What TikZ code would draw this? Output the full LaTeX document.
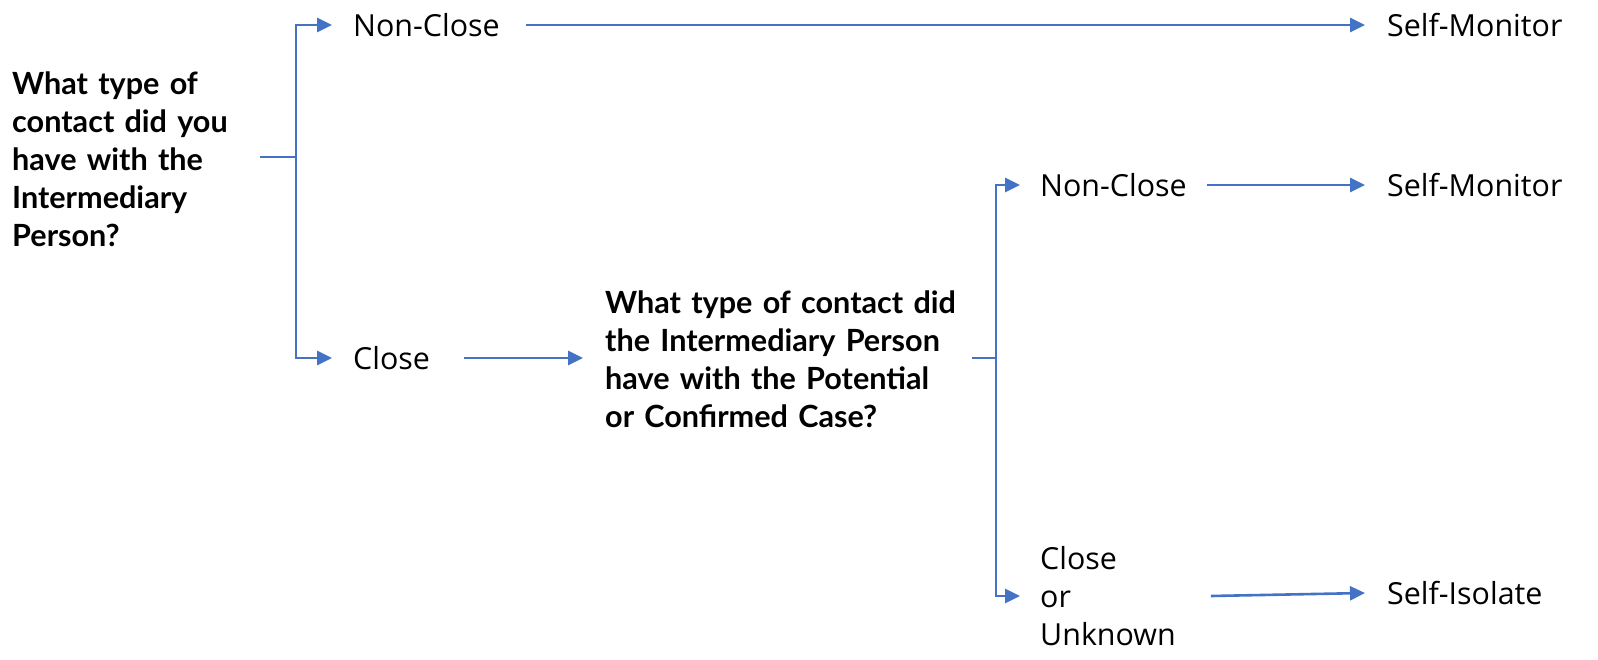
\documentclass[tikz,border=0pt]{standalone}
\usepackage{fontspec}
\setmainfont{Open Sans}
\newfontfamily\boldq{Lato}[BoldFont={Lato Bold}]
\usetikzlibrary{arrows.meta}
\definecolor{lineblue}{RGB}{68,114,196}
\begin{document}
\begin{tikzpicture}[x=1pt,y=-1pt,
  conn/.style={draw=lineblue,line width=2.6pt},
  arr/.style={conn,-{Triangle[length=15pt,width=14pt]}},
  lbl/.style={anchor=west,inner sep=0pt,font=\fontsize{30.4}{38}\selectfont,align=left},
  quest/.style={anchor=west,inner sep=0pt,font=\boldq\bfseries\fontsize{30.6}{38}\selectfont,align=left}]
\useasboundingbox (0,0) rectangle (1598,660);
% question 1
\node[quest,text width=248pt] (q1) at (12,159) {What type of\\contact did you\\have with the\\Intermediary\\Person?};
\coordinate (j1) at (296,157);
\node[lbl] (n1) at (353,25) {Non-Close};
\node[lbl] (c1) at (353,358) {Close};
\node[lbl] (sm1) at (1387,25) {Self-Monitor};
% question 2
\node[quest,text width=367pt] (q2) at (605,359) {What type of contact did\\the Intermediary Person\\have with the Potential\\or Confirmed Case?};
\coordinate (j2) at (996,358);
\node[lbl] (n2) at (1040,185) {Non-Close};
\node[lbl] (cu) at (1040,596) {Close\\or\\Unknown};
\node[lbl] (sm2) at (1387,185) {Self-Monitor};
\node[lbl] (si) at (1387,593) {Self-Isolate};
% connectors
\draw[conn] (q1.east |- j1) -- (j1);
\draw[arr,shorten >=21pt] (j1) |- (n1.west);
\draw[arr,shorten >=21pt] (j1) |- (c1.west);
\draw[arr] ([xshift=26pt]n1.east) -- ([xshift=-22pt]sm1.west);
\draw[arr] ([xshift=34pt]c1.east) -- ([xshift=-22pt]q2.west |- c1.west);
\draw[conn] (q2.east |- j2) -- (j2);
\draw[arr,shorten >=20pt] (j2) |- (n2.west);
\draw[arr,shorten >=20pt] (j2) |- (cu.west);
\draw[arr] ([xshift=20pt]n2.east) -- ([xshift=-22pt]sm2.west);
\draw[arr] ([xshift=35pt]cu.east) -- ([xshift=-22pt]si.west);
\end{tikzpicture}
\end{document}
